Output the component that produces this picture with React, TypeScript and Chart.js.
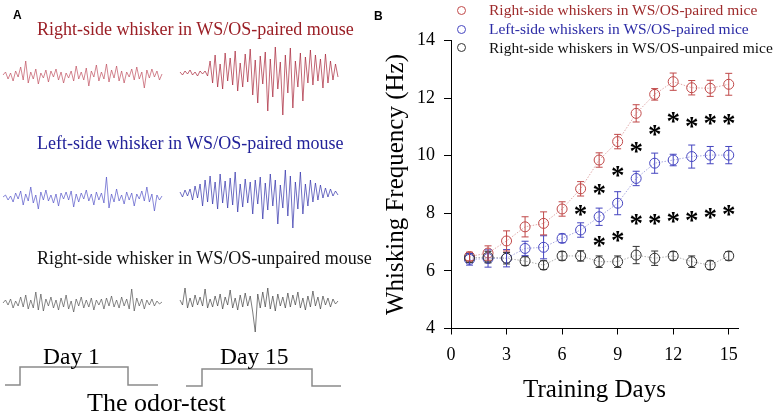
import React, { useEffect, useRef } from "react";
import { Chart, registerables } from "chart.js";
Chart.register(...registerables);

const SERIF = "'Liberation Serif','Times New Roman',serif";
const SANS = "'Liberation Sans',Arial,sans-serif";

// ---------- Panel B data ----------
const days = [1, 2, 3, 4, 5, 6, 7, 8, 9, 10, 11, 12, 13, 14, 15];
const xTicks = [0, 3, 6, 9, 12, 15];
const rightPaired = [6.5, 6.62, 7.04, 7.53, 7.65, 8.15, 8.85, 9.85, 10.49, 11.47, 12.13, 12.57, 12.36, 12.34, 12.48];
const rightPairedErr = [0.15, 0.25, 0.35, 0.35, 0.4, 0.25, 0.25, 0.25, 0.25, 0.3, 0.2, 0.3, 0.25, 0.28, 0.38];
const leftPaired = [6.4, 6.43, 6.44, 6.78, 6.82, 7.13, 7.42, 7.88, 8.35, 9.21, 9.74, 9.85, 9.97, 10.02, 10.02];
const leftPairedErr = [0.2, 0.3, 0.3, 0.25, 0.4, 0.15, 0.25, 0.3, 0.4, 0.25, 0.35, 0.2, 0.4, 0.3, 0.3];
const rightUnpaired = [6.45, 6.48, 6.44, 6.34, 6.2, 6.52, 6.52, 6.32, 6.32, 6.55, 6.44, 6.52, 6.32, 6.2, 6.52];
const rightUnpairedErr = [0.15, 0.2, 0.2, 0.15, 0.15, 0.15, 0.18, 0.2, 0.2, 0.3, 0.25, 0.15, 0.2, 0.15, 0.15];
const upperStarDays = [7, 8, 9, 10, 11, 12, 13, 14, 15];
const upperStarY = [8.11, 8.81, 9.44, 10.27, 10.86, 11.34, 11.17, 11.27, 11.27];
const lowerStarDays = [8, 9, 10, 11, 12, 13, 14, 15];
const lowerStarY = [7.01, 7.21, 7.77, 7.77, 7.84, 7.88, 8.0, 8.08];
const seriesLabels = [
  "Right-side whiskers in WS/OS-paired mice",
  "Left-side whiskers in WS/OS-paired mice",
  "Right-side whiskers in WS/OS-unpaired mice",
];

// ---------- Panel A data (hand-read trace deflections, up = positive) ----------
const redDay1 = [0, 3, -4, 2, -6, 4, -2, 8, -5, 14, -8, 3, -4, 6, -9, 2, -3, 5, -7, 4, -2, 6, -5, 3, -8, 2, -3, 4, -6, 9, -4, 3, -5, 7, -11, 4, -2, 10, -6, 3, -4, 11, -7, 5, -3, 9, -6, 4, -8, 3, -2, 6, -5, 8, -4, 3, -13, 5, -3, 6, -2, 4, -5, 1];
const redDay15 = [1, -2, 2, -1, 3, -2, 1, -3, 2, -1, 2, -3, 12, -10, 18, -14, 9, -16, 20, -8, 15, -12, 22, -18, 10, -14, 19, -9, 24, -22, 13, -30, 17, -11, 21, -38, 14, -24, 26, -16, 11, -42, 18, -20, 25, -35, 12, -14, 20, -28, 16, -10, 23, -12, 18, -8, 14, -15, 19, -10, 12, -7, 9, -4];
const blueDay1 = [0, 2, -3, 1, -5, 4, -2, 6, -8, 3, -4, 10, -6, 2, -12, 5, -3, 7, -4, 2, -6, 3, -9, 4, -2, 5, -3, 6, -10, 3, -5, 4, -2, 7, -4, 3, -8, 5, -3, 4, -6, 20, -11, 3, -5, 8, -4, 2, -7, 5, -3, 4, -9, 3, -2, 6, -4, 10, -5, 3, -14, 2, -3, 1];
const blueDay15 = [2, -3, 4, -2, 5, -6, 8, -4, 10, -12, 14, -8, 18, -10, 12, -15, 20, -9, 13, -14, 16, -11, 22, -18, 10, -13, 15, -9, 12, -20, 14, -10, 17, -25, 11, -16, 20, -12, 14, -30, 9, -14, 24, -22, 18, -34, 12, -15, 22, -20, 10, -12, 14, -8, 11, -6, 9, -4, 6, -3, 5, -2, 3, -1];
const blackDay1 = [0, 3, -2, 4, -5, 2, -3, 6, -4, 8, -6, 3, -5, 11, -7, 9, -8, 4, -3, 6, -5, 3, -7, 5, -4, 8, -6, 2, -9, 4, -3, 6, -5, 3, -4, 5, -7, 3, -2, 4, -6, 5, -3, 7, -4, 3, -5, 6, -3, 4, -6, 14, -8, 5, -3, 4, -6, 3, -2, 4, -3, 2, -1, 1];
const blackDay15 = [2, -3, 14, -6, 4, -5, 7, -3, 5, -4, 13, -6, 3, -5, 6, -4, 8, -7, 5, -3, 12, -6, 4, -8, 7, -5, 9, -4, 6, -10, -30, 8, -6, 10, -5, 14, -7, 6, -9, 8, -4, 5, -6, 9, -5, 7, -3, 10, -6, 4, -8, 6, -5, 11, -4, 5, -7, 6, -3, 4, -5, 3, -2, 1];
const odorLevels = [0, 0, 1, 1, 0, 0];

const errorBarPlugin = {
  id: "errorBars",
  afterDatasetsDraw(chart: any) {
    const { ctx, scales } = chart;
    const x = scales.x, y = scales.y;
    chart.data.datasets.forEach((ds: any) => {
      if (!ds.errors) return;
      ctx.save();
      ctx.strokeStyle = ds.pointBorderColor;
      ctx.lineWidth = 1;
      ds.data.forEach((p: any, i: number) => {
        const px = x.getPixelForValue(p.x);
        const t = y.getPixelForValue(p.y + ds.errors[i]);
        const b = y.getPixelForValue(p.y - ds.errors[i]);
        ctx.beginPath();
        ctx.moveTo(px, t); ctx.lineTo(px, b);
        ctx.moveTo(px - 3.5, t); ctx.lineTo(px + 3.5, t);
        ctx.moveTo(px - 3.5, b); ctx.lineTo(px + 3.5, b);
        ctx.stroke();
      });
      ctx.restore();
    });
  },
};

const starPlugin = {
  id: "stars",
  afterDatasetsDraw(chart: any) {
    const { ctx, scales } = chart;
    const x = scales.x, y = scales.y;
    ctx.save();
    ctx.fillStyle = "#000";
    ctx.font = `bold 27px ${SERIF}`;
    ctx.textAlign = "center";
    ctx.textBaseline = "alphabetic";
    const m = ctx.measureText("*");
    const off = (m.actualBoundingBoxAscent - m.actualBoundingBoxDescent) / 2;
    const draw = (ds: number[], vs: number[]) =>
      ds.forEach((d, i) => ctx.fillText("*", x.getPixelForValue(d), y.getPixelForValue(vs[i]) + off));
    draw(upperStarDays, upperStarY);
    draw(lowerStarDays, lowerStarY);
    ctx.restore();
  },
};

export default function App() {
  const aRef = useRef<HTMLCanvasElement>(null);
  const bRef = useRef<HTMLCanvasElement>(null);

  useEffect(() => {
    const charts: Chart[] = [];

    // ----- Panel A -----
    const trace = (vals: number[], x0: number, x1: number, base: number) =>
      vals.map((v, i) => ({ x: x0 + (i * (x1 - x0)) / (vals.length - 1), y: base - v }));
    const step = (xs: number[], base: number, h: number) =>
      odorLevels.map((l, i) => ({ x: xs[i], y: base - l * h }));
    const tr = (data: any[], color: string, w = 0.7) => ({
      data, borderColor: color, borderWidth: w, pointRadius: 0, fill: false, tension: 0,
    });
    if (aRef.current) {
      charts.push(
        new Chart(aRef.current, {
          type: "line",
          data: {
            datasets: [
              tr(trace(redDay1, 3, 162, 75), "#c05060"),
              tr(trace(redDay15, 180, 338, 73), "#a82438"),
              tr(trace(blueDay1, 3, 162, 197), "#5555c8"),
              tr(trace(blueDay15, 180, 338, 194), "#3030aa"),
              tr(trace(blackDay1, 3, 162, 303), "#555"),
              tr(trace(blackDay15, 180, 338, 302), "#444"),
              tr(step([5, 20, 20, 128, 128, 158], 385, 18), "#8a8a8a", 1.5),
              tr(step([186, 202, 202, 312, 312, 341], 386, 17), "#8a8a8a", 1.5),
            ] as any,
          },
          options: {
            animation: false,
            responsive: false,
            layout: { padding: 0 },
            plugins: { legend: { display: false }, tooltip: { enabled: false } },
            scales: {
              x: { type: "linear", min: 0, max: 380, display: false },
              y: { type: "linear", min: 0, max: 412, reverse: true, display: false },
            },
          },
        })
      );
    }

    // ----- Panel B -----
    const series = (vals: number[], errs: number[], line: string, pt: string, label: string) => ({
      label,
      data: days.map((d, i) => ({ x: d, y: vals[i] })),
      errors: errs,
      borderColor: line,
      borderWidth: 1,
      borderDash: [1.5, 1.5],
      pointRadius: 5,
      pointBorderWidth: 1,
      pointBorderColor: pt,
      pointBackgroundColor: "rgba(0,0,0,0)",
      fill: false,
      tension: 0,
    });
    const axisFont = { family: SERIF, size: 18 };
    if (bRef.current) {
      charts.push(
        new Chart(bRef.current, {
          type: "line",
          data: {
            datasets: [
              series(rightUnpaired, rightUnpairedErr, "#b0b0b0", "#333", seriesLabels[2]),
              series(leftPaired, leftPairedErr, "#a8a8e0", "#4545c0", seriesLabels[1]),
              series(rightPaired, rightPairedErr, "#e0a8a8", "#c04848", seriesLabels[0]),
            ] as any,
          },
          options: {
            animation: false,
            responsive: false,
            layout: { padding: { top: 40.5, right: 41, left: 0, bottom: 0 } },
            plugins: { legend: { display: false }, tooltip: { enabled: false } },
            scales: {
              x: {
                type: "linear",
                min: 0,
                max: 15.5,
                afterBuildTicks: (axis: any) => {
                  axis.ticks = xTicks.map((v) => ({ value: v }));
                },
                afterFit: (s: any) => {
                  s.height = 83.5;
                },
                grid: { drawOnChartArea: false, tickLength: 6, color: "#000" },
                border: { display: true, color: "#000", width: 1 },
                ticks: { font: axisFont, color: "#000", padding: 9.5, maxRotation: 0 },
                title: {
                  display: true,
                  text: "Training Days",
                  font: { family: SERIF, size: 25 },
                  color: "#000",
                  padding: { top: 0, bottom: 6.4 },
                },
              },
              y: {
                type: "linear",
                min: 4,
                max: 14,
                ticks: { stepSize: 2, font: axisFont, color: "#000", padding: 9 },
                afterFit: (s: any) => {
                  s.width = 75;
                },
                grid: { drawOnChartArea: false, tickLength: 7, color: "#000" },
                border: { display: true, color: "#000", width: 1 },
                title: {
                  display: true,
                  text: "Whisking Frequency (Hz)",
                  font: { family: SERIF, size: 25 },
                  color: "#000",
                  padding: { top: 5, bottom: 0 },
                },
              },
            },
          },
          plugins: [errorBarPlugin, starPlugin],
        })
      );
    }

    return () => charts.forEach((c) => c.destroy());
  }, []);

  const txt = (s: string, left: number, top: number, size: number, color: string, extra: any = {}) => (
    <div
      style={{
        position: "absolute", left, top, fontSize: size, lineHeight: 1, fontFamily: SERIF,
        color, whiteSpace: "nowrap", ...extra,
      }}
    >
      {s}
    </div>
  );
  const legendColors = ["#c04848", "#4545c0", "#333"];
  const legendText = ["#9e2a2b", "#2b2ba6", "#111"];
  const legendY = [10, 29.3, 47.7];

  return (
    <div style={{ position: "fixed", left: 0, top: 0, width: 779, height: 412, background: "#fff", overflow: "hidden" }}>
      <canvas ref={aRef} width={380} height={412} style={{ position: "absolute", left: 0, top: 0, width: 380, height: 412 }} />
      <canvas ref={bRef} width={403} height={412} style={{ position: "absolute", left: 376, top: 0, width: 403, height: 412 }} />
      {txt("A", 13, 8.6, 12, "#000", { fontFamily: SANS, fontWeight: "bold" })}
      {txt("B", 374, 9.5, 12, "#000", { fontFamily: SANS, fontWeight: "bold" })}
      {txt("Right-side whisker in WS/OS-paired mouse", 37, 20, 18, "#9b1f26")}
      {txt("Left-side whisker in WS/OS-paired mouse", 37, 133.8, 18, "#22229a")}
      {txt("Right-side whisker in WS/OS-unpaired mouse", 37, 248.8, 18, "#111")}
      {txt("Day 1", 43, 344.7, 23.5, "#000")}
      {txt("Day 15", 220, 344.7, 23.5, "#000")}
      {txt("The odor-test", 87, 389.7, 26, "#000")}
      {seriesLabels.map((l, i) => (
        <React.Fragment key={l}>
          <div
            style={{
              position: "absolute", left: 456.5, top: legendY[i] - 4.5, width: 7, height: 7,
              borderRadius: "50%", border: `1px solid ${legendColors[i]}`,
            }}
          />
          {txt(l, 489, legendY[i] - 7.9, 15.5, legendText[i])}
        </React.Fragment>
      ))}
    </div>
  );
}
